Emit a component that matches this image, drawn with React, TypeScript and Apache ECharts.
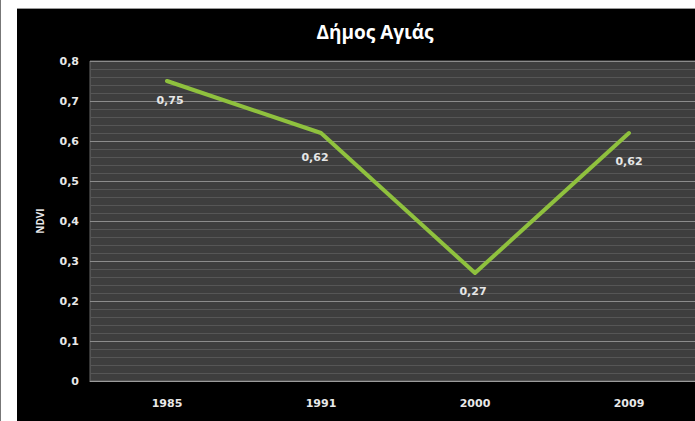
import React, { useEffect, useRef } from "react";
import * as echarts from "echarts";

const titleText = "Δήμος Αγιάς";
const yAxisName = "NDVI";
const years = ["1985", "1991", "2000", "2009"];
const ndvi = [0.75, 0.62, 0.27, 0.62];
const labelOffsets: [number, number][] = [
  [3, 19],
  [-6, 24],
  [-2, 18],
  [0, 28],
];

const fmt = (v: number) => (v === 0 ? "0" : v.toFixed(2).replace(/0$/, "").replace(".", ","));

export default function App() {
  const ref = useRef<HTMLDivElement>(null);
  useEffect(() => {
    if (!ref.current) return;
    document.documentElement.style.overflow = "hidden";
    document.body.style.overflow = "hidden";
    const chart = echarts.init(ref.current, null, { renderer: "svg" });
    const font = "'Open Sans', 'Noto Sans', sans-serif";
    const numFont = "'DejaVu Sans', sans-serif";
    chart.setOption({
      animation: false,
      backgroundColor: "#ffffff",
      textStyle: { fontFamily: font },
      graphic: [
        {
          type: "rect",
          z: -10,
          shape: { x: 17, y: 9, width: 720, height: 420 },
          style: { fill: "#000000" },
        },
        {
          type: "line",
          z: -10,
          shape: { x1: 17, y1: 8.5, x2: 720, y2: 8.5 },
          style: { stroke: "#9a9a9a", lineWidth: 1 },
        },
        {
          type: "line",
          z: -10,
          shape: { x1: 0.5, y1: 0, x2: 0.5, y2: 421 },
          style: { stroke: "#777777", lineWidth: 1 },
        },
      ],
      title: {
        text: titleText,
        left: 370,
        top: 17,
        textAlign: "center",
        textStyle: { color: "#ffffff", fontSize: 19, fontWeight: "bold", fontFamily: font },
      },
      grid: {
        left: 90,
        top: 61,
        width: 616,
        height: 320,
        show: true,
        backgroundColor: "#3e3e3e",
        borderColor: "#6a6a6a",
        borderWidth: 1,
        containLabel: false,
        outerBoundsMode: "none",
      },
      xAxis: {
        type: "category",
        data: years,
        boundaryGap: true,
        axisTick: { show: false },
        axisLine: { lineStyle: { color: "#9a9a9a", width: 1 } },
        axisLabel: {
          color: "#e8e8e8",
          fontSize: 11,
          fontWeight: "bold",
          margin: 17,
          fontFamily: numFont,
        },
      },
      yAxis: {
        type: "value",
        min: 0,
        max: 0.8,
        interval: 0.1,
        name: yAxisName,
        nameLocation: "middle",
        nameGap: 45,
        nameRotate: 90,
        nameTextStyle: { color: "#e8e8e8", fontSize: 10, fontWeight: "bold", fontFamily: font },
        axisLine: { show: false },
        axisTick: { show: false },
        axisLabel: {
          color: "#e8e8e8",
          fontSize: 11,
          fontWeight: "bold",
          margin: 11,
          fontFamily: numFont,
          formatter: (v: number) => (v === 0 ? "0" : v.toFixed(1).replace(".", ",")),
        },
        splitLine: { show: true, lineStyle: { color: "#8c8c8c", width: 1 } },
        minorTick: { show: false, splitNumber: 5 },
        minorSplitLine: { show: true, lineStyle: { color: "#565656", width: 1 } },
      },
      series: [
        {
          type: "line",
          data: ndvi.map((v, i) => ({
            value: v,
            label: { offset: labelOffsets[i] },
          })),
          symbol: "circle",
          symbolSize: 1,
          showSymbol: true,
          itemStyle: { color: "#8fc13e" },
          lineStyle: { color: "#8fc13e", width: 4, join: "round", cap: "round" },
          label: {
            show: true,
            position: "inside",
            color: "#e6e6e6",
            fontSize: 11,
            fontWeight: "bold",
            fontFamily: numFont,
            formatter: (p: any) => fmt(p.value),
          },
        },
      ],
    });
    return () => chart.dispose();
  }, []);
  return (
    <div
      style={{
        position: "fixed",
        left: 0,
        top: 0,
        width: 695,
        height: 421,
        overflow: "hidden",
      }}
    >
      <div ref={ref} style={{ width: 720, height: 421 }} />
    </div>
  );
}
